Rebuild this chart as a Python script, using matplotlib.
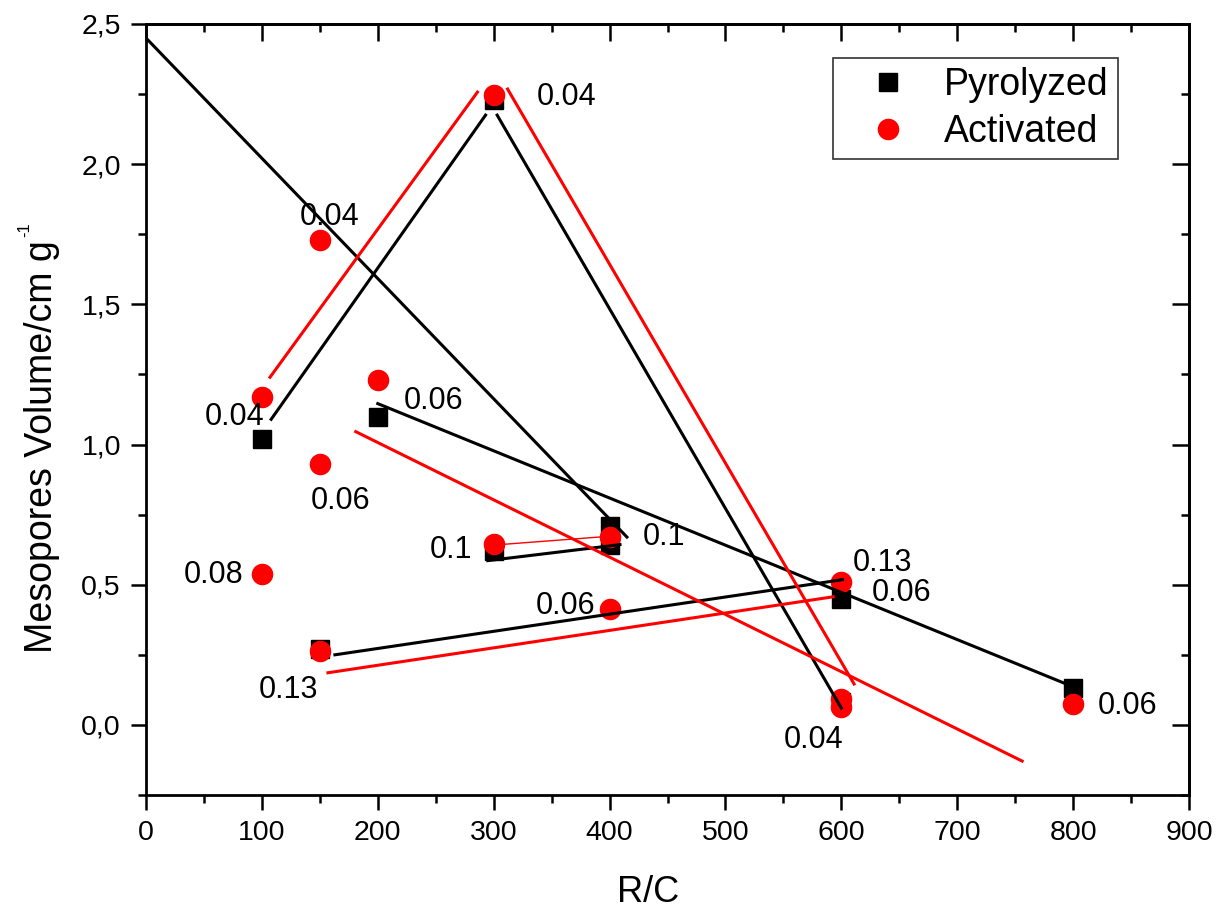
import matplotlib.pyplot as plt
from matplotlib.ticker import MultipleLocator, FuncFormatter

plt.rcParams['font.family'] = ['Liberation Sans', 'DejaVu Sans']

# measured points
pyro_x = [100, 200, 300, 150, 300, 400, 400, 600, 800, 600]
pyro_y = [1.02, 1.10, 2.23, 0.27, 0.62, 0.71, 0.64, 0.45, 0.13, 0.08]

act_x = [100, 150, 150, 200, 300, 100, 150, 300, 400, 400, 600, 600, 600, 800]
act_y = [1.17, 1.73, 0.93, 1.23, 2.245, 0.54, 0.265, 0.645, 0.67, 0.415, 0.51, 0.093, 0.064, 0.075]

# guide lines drawn on the chart (xs, ys)
black_segs = [
    ([0, 415], [2.45, 0.67]),
    ([108, 293], [1.09, 2.175]),
    ([303, 600], [2.175, 0.06]),
    ([200, 800], [1.146, 0.136]),
    ([163, 601], [0.25, 0.518]),
    ([295, 409], [0.586, 0.643]),
]
red_segs = [
    ([107, 286], [1.24, 2.257]),
    ([312, 611], [2.268, 0.146]),
    ([181, 756], [1.046, -0.129]),
    ([157, 593], [0.186, 0.457]),
]
red_thin = ([305, 394], [0.643, 0.671])

# point labels
lbl_text = ['0.04', '0.04', '0.04', '0.06', '0.06', '0.08', '0.1', '0.1',
            '0.06', '0.13', '0.13', '0.06', '0.04', '0.06']
lbl_x = [337, 133, 51, 222, 142, 33, 245, 429, 336, 97, 610, 626, 550, 821]
lbl_y = [2.24, 1.81, 1.10, 1.157, 0.80, 0.536, 0.625, 0.671, 0.425, 0.125,
         0.578, 0.471, -0.054, 0.068]

fig = plt.figure(figsize=(12.24, 9.21), dpi=100)
ax = fig.add_axes([146 / 1224, 1 - 795 / 921, 1043 / 1224, 771 / 921])

ax.plot(pyro_x, pyro_y, 's', color='black', markersize=12.5, label='Pyrolyzed', zorder=3)
ax.plot(act_x, act_y, 'o', color='red', markersize=14.5, label='Activated', zorder=3)

for xs, ys in black_segs:
    ax.plot(xs, ys, color='black', lw=2.2, zorder=4)
for xs, ys in red_segs:
    ax.plot(xs, ys, color='red', lw=2.2, zorder=4)
ax.plot(red_thin[0], red_thin[1], color='red', lw=1.0, zorder=4)

for t, x, y in zip(lbl_text, lbl_x, lbl_y):
    ax.text(x, y, t, fontsize=22, ha='left', va='center', zorder=5)

ax.set_xlim(0, 900)
ax.set_ylim(-0.25, 2.5)
ax.xaxis.set_major_locator(MultipleLocator(100))
ax.xaxis.set_minor_locator(MultipleLocator(50))
ax.yaxis.set_major_locator(MultipleLocator(0.5))
ax.yaxis.set_minor_locator(MultipleLocator(0.25))
ax.yaxis.set_major_formatter(FuncFormatter(lambda v, p: ('%.1f' % v).replace('.', ',')))

for s in ax.spines.values():
    s.set_linewidth(2.0)
ax.tick_params(axis='both', which='both', labelsize=20.5, width=1.8, direction='out',
               top=False, right=False, pad=7)
ax.tick_params(which='major', length=11)
ax.tick_params(which='minor', length=5.5)

# inward ticks on the top and right sides
sec_x = ax.secondary_xaxis('top')
sec_x.xaxis.set_major_locator(MultipleLocator(100))
sec_x.xaxis.set_minor_locator(MultipleLocator(50))
sec_x.tick_params(which='both', direction='in', labeltop=False, width=1.8)
sec_x.tick_params(which='major', length=12)
sec_x.tick_params(which='minor', length=6)
sec_x.spines['top'].set_linewidth(2.0)
sec_y = ax.secondary_yaxis('right')
sec_y.yaxis.set_major_locator(MultipleLocator(0.5))
sec_y.yaxis.set_minor_locator(MultipleLocator(0.25))
sec_y.tick_params(which='both', direction='in', labelright=False, width=1.8)
sec_y.tick_params(which='major', length=12)
sec_y.tick_params(which='minor', length=6)
sec_y.spines['right'].set_linewidth(2.0)

ax.set_xlabel('R/C', fontsize=26)
ax.xaxis.set_label_coords(0.481, -0.104)
ax.set_ylabel('Mesopores Volume/cm g', fontsize=27)
ax.yaxis.set_label_coords(-0.082, 0.452)
# small raised "-1" of the unit
fig.text(25 / 1224, 1 - 230 / 921, '-1', fontsize=12, rotation=90, ha='center', va='center')

leg = ax.legend(loc='upper right', bbox_to_anchor=(0.932, 0.956), borderaxespad=0,
                fontsize=27, frameon=True, fancybox=False, edgecolor='black',
                handletextpad=0.3, borderpad=0.25, labelspacing=0.28, handlelength=2.4)
leg.get_frame().set_linewidth(1.2)

fig.savefig('out.png', dpi=100)
